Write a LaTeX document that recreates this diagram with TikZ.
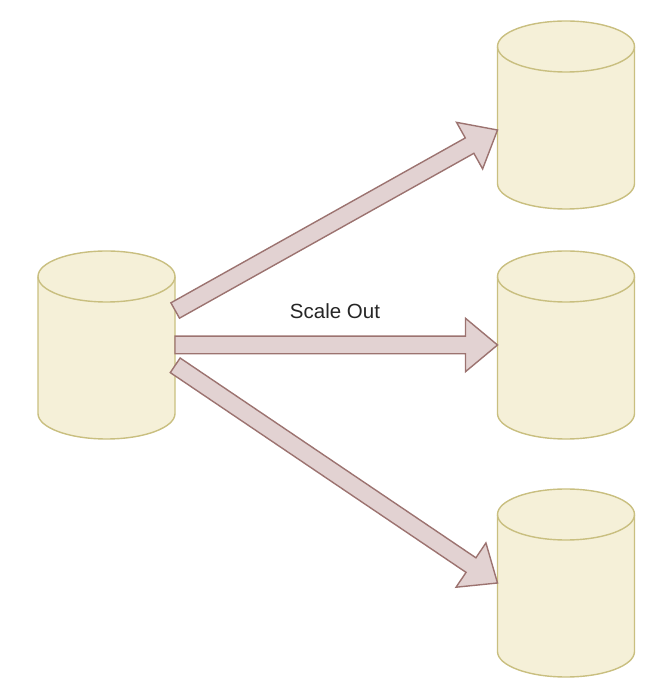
\documentclass[tikz,border=0pt]{standalone}
\usepackage{fontspec}
\setmainfont{Liberation Sans}
\usetikzlibrary{calc}
\definecolor{cylfill}{HTML}{F5F0D8}
\definecolor{cyldraw}{HTML}{C9BF80}
\definecolor{arrfill}{HTML}{E2D2D2}
\definecolor{arrdraw}{HTML}{9C7370}
\tikzset{
  cylbox/.style={minimum width=137pt,minimum height=188pt,inner sep=0pt,outer sep=0pt},
  cylline/.style={draw=cyldraw,fill=cylfill,line width=1.4pt},
  blockarr/.style={draw=arrdraw,fill=arrfill,line width=1.4pt,line join=miter},
  lbl/.style={font=\fontsize{20.5pt}{23pt}\selectfont,text=black!85,inner sep=0pt}
}
\newcommand{\dbcyl}[2]{%
  \node[cylbox] (#1) at (#2) {};
  \draw[cylline] ($(#1.north west)+(0,-25.5pt)$) arc[start angle=180,end angle=0,x radius=68.5pt,y radius=25.5pt]
    -- ($(#1.south east)+(0,25.5pt)$) arc[start angle=0,end angle=-180,x radius=68.5pt,y radius=25.5pt] -- cycle;
  \draw[cylline,fill=none] ($(#1.north west)+(0,-25.5pt)$) arc[start angle=180,end angle=360,x radius=68.5pt,y radius=25.5pt];
}
\newcommand{\blockarrow}[2]{%
  \coordinate (hb) at ($(#2)!32pt!(#1)$);
  \draw[blockarr] ($(#1)!8.8pt!90:(#2)$) -- ($(hb)!8.8pt!-90:(#1)$) -- ($(hb)!26.7pt!-90:(#1)$) -- (#2)
    -- ($(hb)!26.7pt!90:(#1)$) -- ($(hb)!8.8pt!90:(#1)$) -- ($(#1)!8.8pt!-90:(#2)$) -- cycle;
}
\begin{document}
\begin{tikzpicture}[x=1pt,y=1pt]
\useasboundingbox (0,0) rectangle (657,696);
\dbcyl{src}{106.5,351}
\dbcyl{dsta}{566,581}
\dbcyl{dstb}{566,351}
\dbcyl{dstc}{566,113}
\coordinate (ta) at ($(src.east)+(0.2pt,34.5pt)$);
\coordinate (tb) at (src.east);
\coordinate (tc) at ($(src.east)+(0.2pt,-20.3pt)$);
\coordinate (ha) at ($(dsta.west)+(0,-15pt)$);
\coordinate (hb2) at (dstb.west);
\coordinate (hc) at (dstc.west);
\blockarrow{ta}{ha}
\blockarrow{tb}{hb2}
\blockarrow{tc}{hc}
\node[lbl] (scale) at (335,385) {Scale Out};
\end{tikzpicture}
\end{document}
